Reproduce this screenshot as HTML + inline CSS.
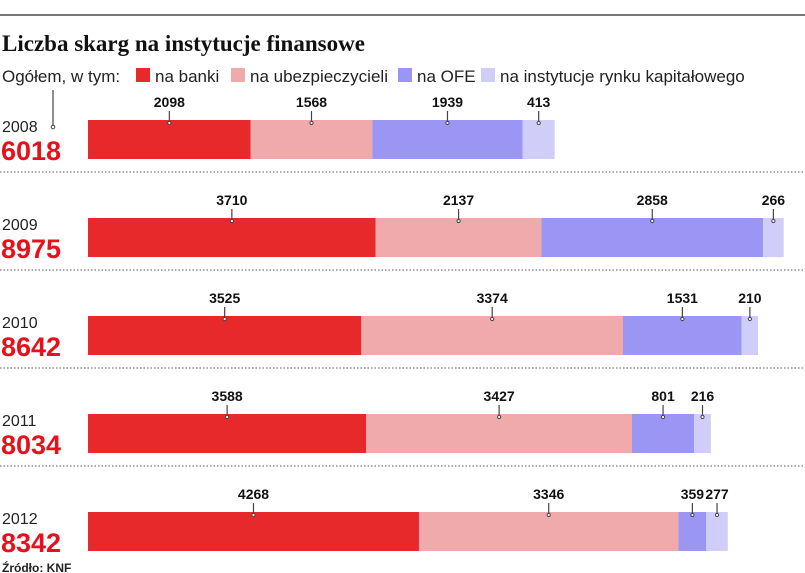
<!DOCTYPE html>
<html><head><meta charset="utf-8">
<style>
body{margin:0;background:#fff;width:805px;height:573px;overflow:hidden;font-family:"Liberation Sans","DejaVu Sans",sans-serif}
svg{display:block}
</style></head><body>
<svg id="chart" width="805" height="573">
<line x1="0" y1="15" x2="805" y2="15" stroke="#777" stroke-width="2"/>
<text x="2" y="51" font-family="Liberation Serif,serif" font-weight="bold" font-size="23" fill="#111">Liczba skarg na instytucje finansowe</text>
<g font-size="17" fill="#222">
<text x="2" y="82">Ogółem, w tym:</text>
<rect x="136" y="68" width="14" height="14" fill="#e8292b"/>
<text x="155" y="82">na banki</text>
<rect x="231" y="68" width="14" height="14" fill="#f0aaac"/>
<text x="250" y="82">na ubezpieczycieli</text>
<rect x="398" y="68" width="14" height="14" fill="#9b96f4"/>
<text x="417" y="82">na OFE</text>
<rect x="481" y="68" width="14" height="14" fill="#d0cef8"/>
<text x="500" y="82">na instytucje rynku kapitałowego</text>
</g>
<line x1="53" y1="90" x2="53" y2="127" stroke="#444" stroke-width="1.2"/>
<circle cx="53" cy="127" r="1.8" fill="#fff" stroke="#444"/>
<text x="2" y="572" font-size="12" font-weight="bold" fill="#222">Źródło: KNF</text>
</svg>
<script>
const years=["2008","2009","2010","2011","2012"];
const totals=[6018,8975,8642,8034,8342];
const banki=[2098,3710,3525,3588,4268];
const ubezp=[1568,2137,3374,3427,3346];
const ofe=[1939,2858,1531,801,359];
const rynek=[413,266,210,216,277];
const series=[banki,ubezp,ofe,rynek];
const colors=["#e8292b","#f0aaac","#9b96f4","#d0cef8"];
const snames=["banki","ubezp","ofe","rynek"];
const x0=88, pxPer=(784-88)/8975;
const xs=v=>x0+v*pxPer;
const rowY=i=>120+i*98;
const svg=document.getElementById('chart');
const NS="http://www.w3.org/2000/svg";
function mk(t,a){const e=document.createElementNS(NS,t);for(const k in a)e.setAttribute(k,a[k]);svg.appendChild(e);return e;}
years.forEach((y,i)=>{
  const top=rowY(i),h=39;
  const yl=mk('text',{x:2,y:top+12,'font-size':16,fill:'#222'});yl.textContent=y;
  
  
  const tl=mk('text',{x:1,y:top+40,'font-size':27,'font-weight':'bold',fill:'#e8101a'});tl.textContent=totals[i];
  
  
  let cum=0;
  series.forEach((s,j)=>{
    const v=s[i],xa=xs(cum),xb=xs(cum+v);cum+=v;
    const r=mk('rect',{x:xa,y:top,width:xb-xa,height:h,fill:colors[j]});
    
    
    const cx=(xa+xb)/2;
    const ln=mk('line',{x1:cx,y1:top-9,x2:cx,y2:top+3,stroke:'#444','stroke-width':1.2});
    
    
    const c=mk('circle',{cx:cx,cy:top+3,r:1.6,fill:'#fff',stroke:'#444'});
    
    
    const t=mk('text',{x:cx,y:top-13,'font-size':14,'font-weight':'bold','text-anchor':'middle',fill:'#111'});
    t.textContent=v;
    
    
  });
  if(i<years.length-1){
    const sp=mk('line',{x1:0,y1:top+52,x2:805,y2:top+52,stroke:'#555','stroke-width':1,'stroke-dasharray':'1.5,2'});
    
    
  }
});
</script>
</body></html>
